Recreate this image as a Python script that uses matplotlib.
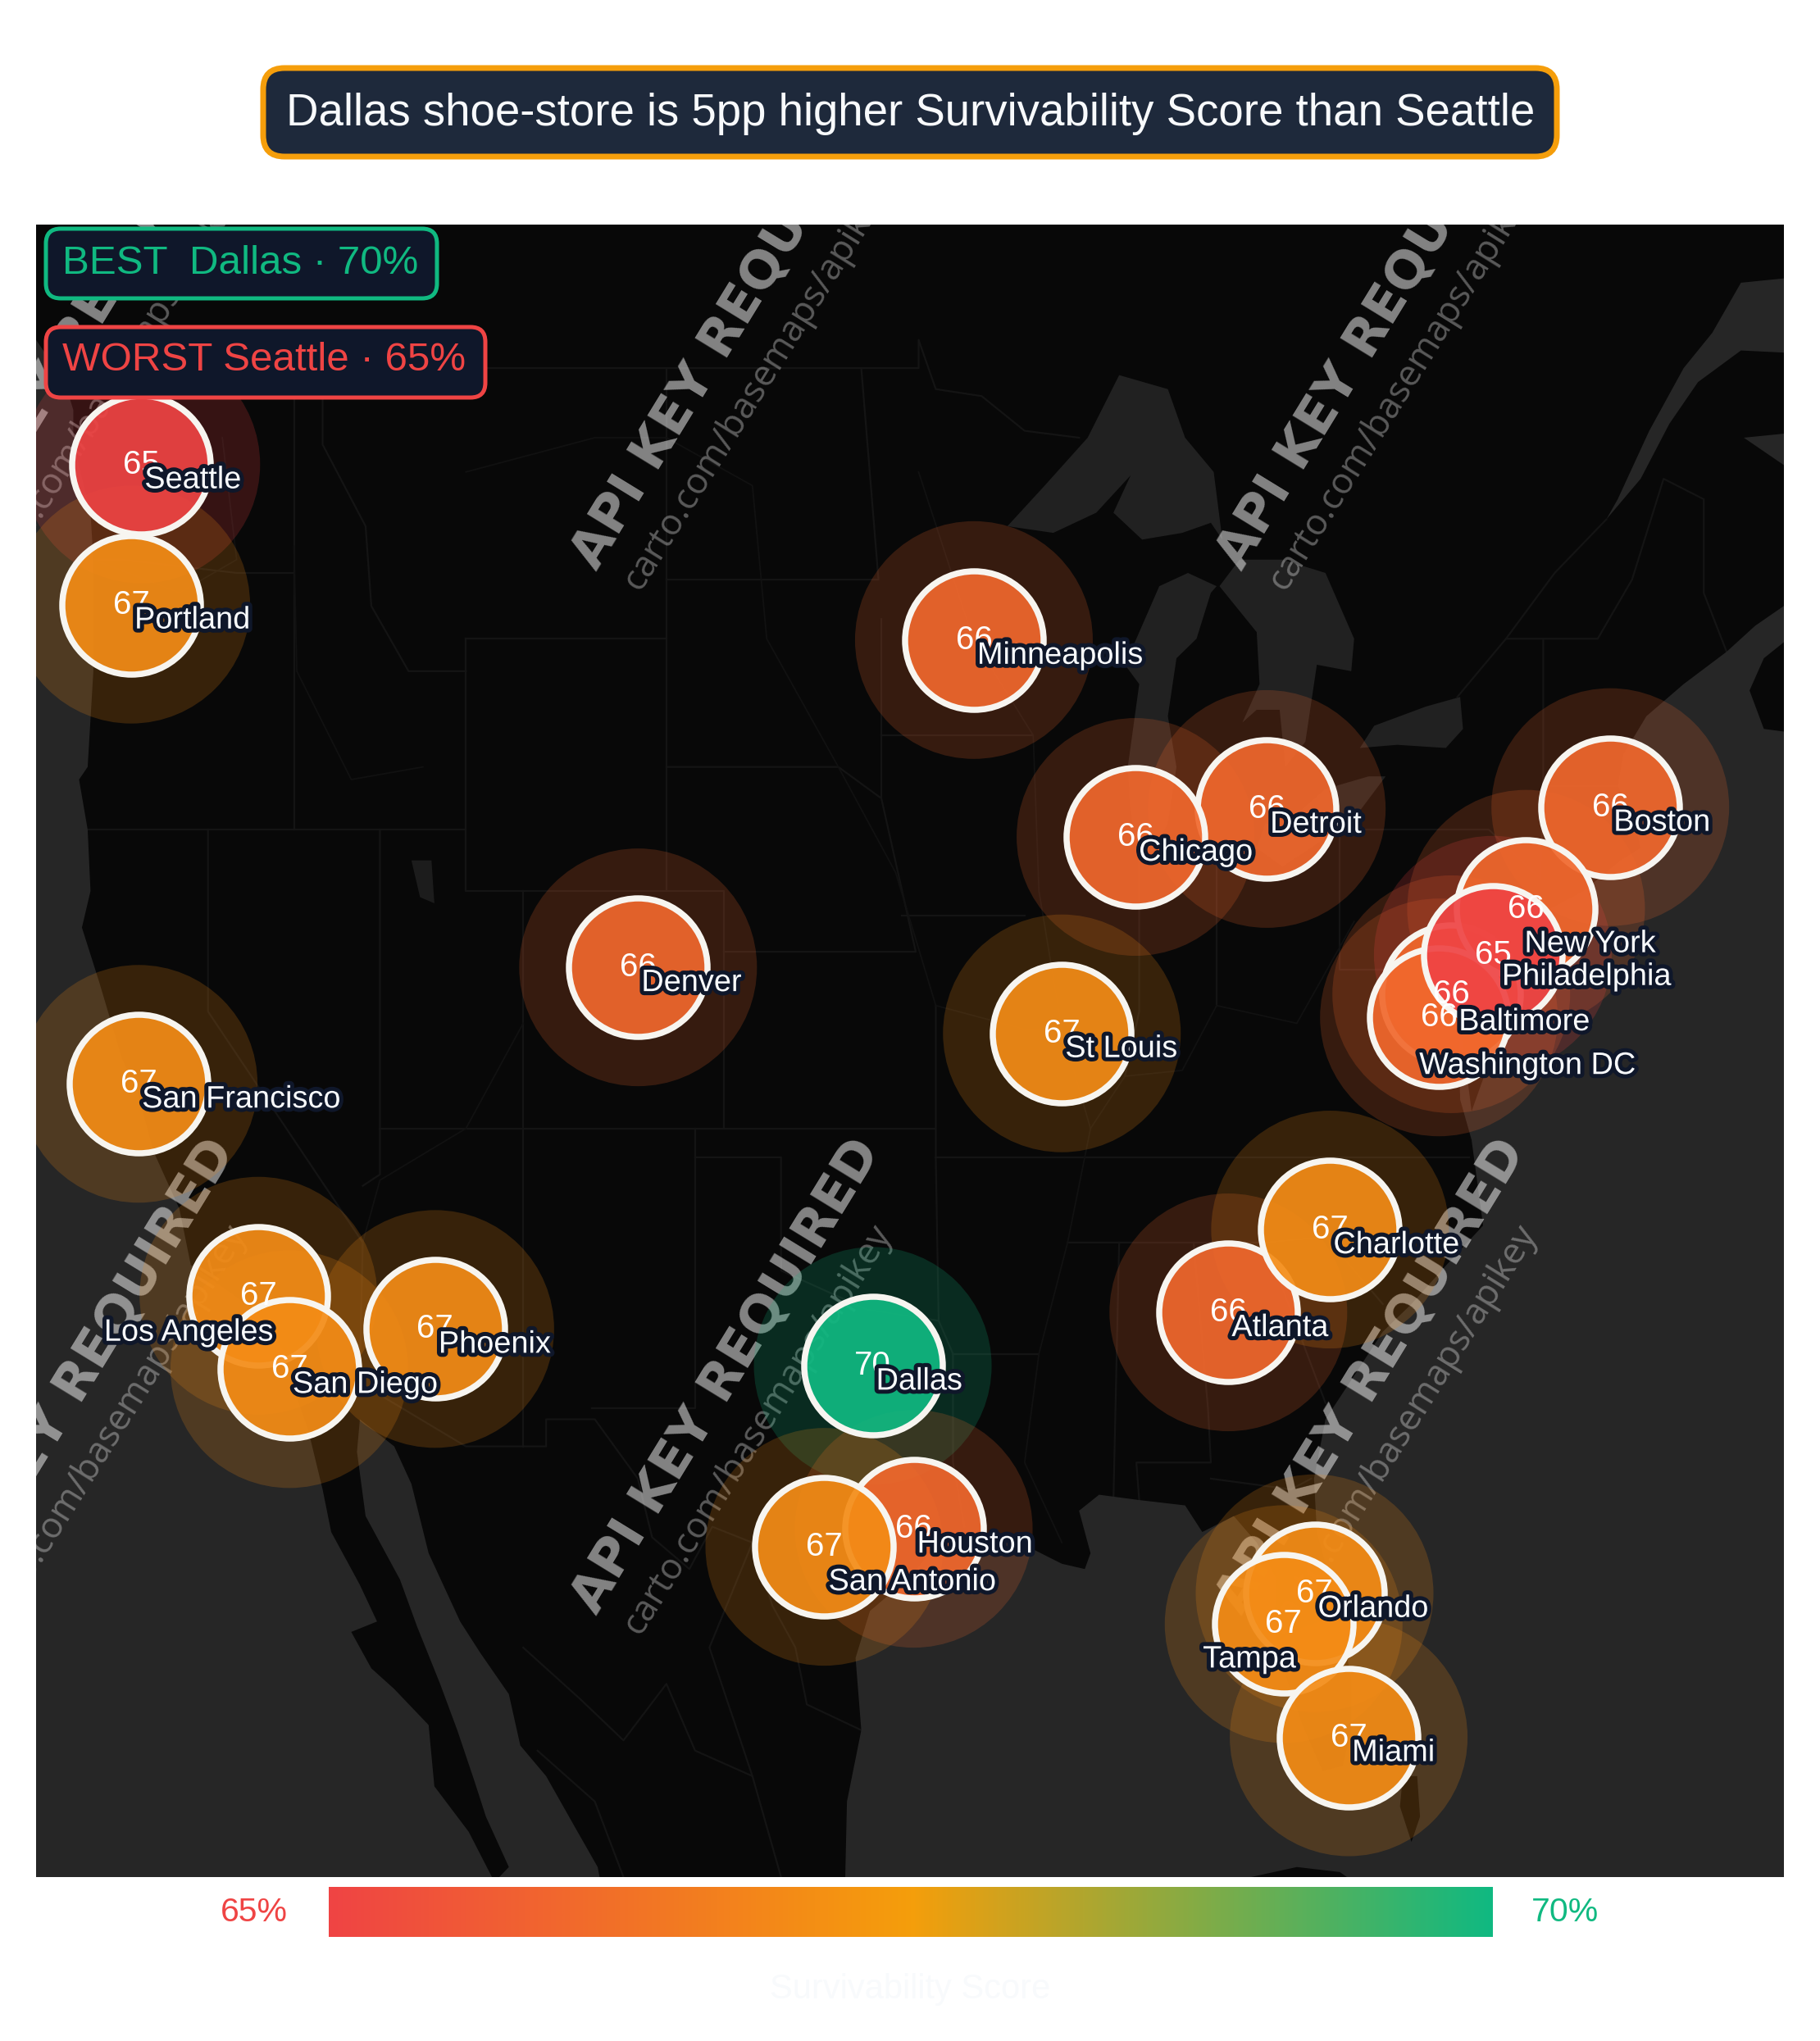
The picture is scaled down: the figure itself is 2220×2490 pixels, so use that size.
import numpy as np
import matplotlib
matplotlib.use("Agg")
import matplotlib.pyplot as plt
import matplotlib.patheffects as pe
from matplotlib.colors import LinearSegmentedColormap, Normalize
from matplotlib.patches import FancyBboxPatch, Polygon

plt.rcParams['font.family'] = ['Liberation Sans', 'DejaVu Sans']

### DATA
cities = ['Seattle', 'Portland', 'San Francisco', 'Los Angeles', 'San Diego', 'Phoenix', 'Denver',
          'Dallas', 'Houston', 'San Antonio', 'Minneapolis', 'Detroit', 'Chicago', 'St Louis',
          'Atlanta', 'Charlotte', 'Orlando', 'Tampa', 'Miami', 'Boston', 'Baltimore',
          'Washington DC', 'New York', 'Philadelphia']
lons = [-122.33, -122.68, -122.42, -118.24, -117.16, -112.07, -104.99,
        -96.80, -95.37, -98.49, -93.27, -83.05, -87.63, -90.20,
        -84.39, -80.84, -81.38, -82.46, -80.19, -71.06, -76.61,
        -77.04, -74.00, -75.16]
lats = [47.61, 45.52, 37.77, 34.05, 32.72, 33.45, 39.74,
        32.78, 29.76, 29.42, 44.98, 42.33, 41.88, 38.63,
        33.75, 35.23, 28.54, 27.95, 25.76, 42.36, 39.29,
        38.90, 40.71, 39.95]
scores = [65, 67, 67, 67, 67, 67, 66,
          70, 66, 67, 66, 66, 66, 67,
          66, 67, 67, 67, 67, 66, 66,
          66, 66, 65]

title = 'Dallas shoe-store is 5pp higher Survivability Score than Seattle'
best_label = 'BEST  Dallas · 70%'
worst_label = 'WORST Seattle · 65%'
bar_title = 'Survivability Score'

# basemap outlines, lon/lat
pacific = [(-126, 49.4), (-125, 48.8), (-124.7, 48.4), (-124.7, 47.9), (-124.1, 46.9), (-124, 46.2),
           (-124, 44.5), (-124.2, 43), (-124.5, 42.8), (-124.2, 42), (-124.1, 41), (-124.4, 40.4),
           (-123.8, 39.5), (-123, 38.2), (-122.5, 37.7), (-121.9, 36.6), (-121, 35.6), (-120.6, 34.6),
           (-119.2, 34.1), (-118.4, 33.8), (-117.3, 33), (-117.1, 32.5), (-116.5, 31.6), (-116, 30.5),
           (-115.7, 29.7), (-114.7, 28.7), (-114.1, 28), (-115, 27.8), (-114.3, 27.1), (-113.5, 26.7),
           (-112.3, 26), (-112.1, 24.8), (-110.9, 23.9), (-110, 22.9), (-109.5, 23.2), (-110.3, 24.2),
           (-110.7, 24.9), (-111.3, 25.9), (-111.9, 26.8), (-112.7, 27.9), (-113.3, 28.8), (-114.5, 30),
           (-114.8, 31.2), (-114.7, 31.8), (-113.5, 31.3), (-112.9, 30.6), (-112.3, 29.3), (-111.2, 28),
           (-110.5, 27.4), (-109.5, 26.6), (-109.1, 25.6), (-108.2, 25), (-107.2, 24), (-106.4, 23.2),
           (-106, 22), (-127, 22), (-127, 49.4)]
atlantic = [(-97.8, 22), (-97.7, 24.5), (-97.2, 25.9), (-97.4, 27.3), (-96.9, 28.2), (-95.4, 28.9),
            (-94.7, 29.4), (-93.8, 29.7), (-92.3, 29.6), (-91.3, 29.4), (-90.2, 29.1), (-89.4, 29),
            (-89.2, 29.3), (-89.6, 30.1), (-88.9, 30.4), (-87.5, 30.3), (-85.9, 30.2), (-85.3, 29.7),
            (-84.2, 30), (-83.4, 29.5), (-82.7, 28.8), (-82.8, 27.9), (-82.3, 26.8), (-81.8, 26),
            (-81.1, 25.1), (-80.4, 25.2), (-80.1, 25.9), (-80.1, 26.9), (-80.6, 28.3), (-81.3, 29.7),
            (-81.4, 30.7), (-81, 31.8), (-80, 32.6), (-79, 33.4), (-78, 33.9), (-76.6, 34.7),
            (-75.5, 35.3), (-75.9, 36.8), (-76.3, 37.5), (-76.4, 39.2), (-75.9, 37.3), (-75.1, 38.4),
            (-75.1, 38.8), (-75.5, 39.5), (-74.9, 38.9), (-74.2, 39.6), (-74, 40.5), (-72, 41),
            (-70.7, 41.5), (-70, 41.7), (-70.2, 42.1), (-70.8, 42.7), (-70.6, 43.2), (-69.8, 43.8),
            (-68.5, 44.3), (-67, 44.8), (-66, 45.2), (-64, 45.8), (-64, 22)]
nova_scotia = [(-64, 43.5), (-65.7, 43.6), (-66.2, 44.2), (-65.7, 44.7), (-64, 45.3)]
st_lawrence = [(-71.2, 46.8), (-70, 47.4), (-69, 48.2), (-68, 48.8), (-66.5, 49.25), (-64, 49.2),
               (-64, 50.3), (-66.5, 50.2), (-67.5, 49.5), (-68.5, 49), (-69.7, 48.1), (-70.8, 47.1)]
chaleur = [(-64, 48.1), (-66.4, 48), (-65, 47.6), (-64.9, 46.3), (-64, 46)]
superior = [(-92.1, 46.7), (-90.5, 46.6), (-89, 46.9), (-87.8, 47.45), (-88.4, 46.9), (-87.4, 46.5),
            (-86, 46.6), (-85, 46.75), (-84.6, 46.5), (-84.9, 47.5), (-85.9, 48), (-86.5, 48.7),
            (-88.2, 48.9), (-89.3, 48), (-90.8, 47.3)]
michigan = [(-87.6, 41.7), (-87, 41.65), (-86.5, 42.1), (-86.2, 43), (-86.5, 43.8), (-86.2, 44.7),
            (-85.5, 45), (-85, 45.7), (-84.8, 45.8), (-85.8, 46), (-86.8, 45.8), (-87.5, 45.1),
            (-88, 44.6), (-87.5, 44.3), (-87.9, 43), (-87.8, 42.3)]
huron = [(-84.7, 45.8), (-83.4, 45.1), (-83.3, 44.3), (-83.9, 43.7), (-83.4, 43.9), (-82.6, 43.9),
         (-82.4, 43), (-81.7, 43.4), (-81.3, 44.6), (-80.1, 44.5), (-80, 45), (-81, 46),
         (-82.5, 46.2), (-84, 46.2)]
erie = [(-83.4, 41.7), (-82.5, 41.4), (-81.2, 41.8), (-79.8, 42.3), (-78.9, 42.85), (-79.5, 42.85),
        (-81, 42.65), (-82.5, 42.05), (-83.1, 42.1)]
ontario = [(-79.8, 43.3), (-78.5, 43.35), (-76.8, 43.3), (-76.2, 43.6), (-76.3, 44.1), (-77.5, 43.95),
           (-79.3, 43.65)]
salt_lake = [(-112.9, 41.5), (-112.2, 41.5), (-112.1, 40.8), (-112.6, 40.9)]
cuba = [(-85, 21.9), (-84.4, 22.9), (-83.2, 23.05), (-82, 23.2), (-80.5, 23.1), (-79, 22.5), (-79, 21.5), (-85, 21.5)]
andros = [(-78.3, 25), (-77.8, 25), (-77.7, 24.2), (-78, 23.7), (-78.4, 24.4)]

borders = [
    [(-123, 49), (-95.2, 49), (-95.2, 49.4), (-94.6, 48.7), (-93, 48.6), (-91.5, 48.1), (-89.6, 48)],
    [(-124, 46.2), (-123, 46.2), (-119, 46), (-117, 46)],
    [(-117, 49), (-117, 42)],
    [(-124.2, 42), (-111, 42)],
    [(-120, 42), (-120, 39), (-114.6, 35), (-114.7, 32.7)],
    [(-114, 42), (-114, 36.2), (-114.6, 36)],
    [(-114, 37), (-94.6, 37)],
    [(-109, 41), (-109, 31.3)],
    [(-111, 45), (-111, 41), (-102, 41), (-102, 37)],
    [(-104, 49), (-104, 41)],
    [(-111, 45), (-104, 45)],
    [(-116, 49), (-116, 47.9), (-114.5, 46.7), (-114.3, 45.5), (-113, 44.5), (-111, 44.5)],
    [(-104, 45.9), (-96.6, 45.9), (-97.2, 49)],
    [(-104, 43), (-98, 43), (-96.5, 42.5), (-96.5, 45.3)],
    [(-102, 40), (-95.3, 40), (-96.5, 42.5)],
    [(-103, 37), (-103, 32), (-106.6, 32)],
    [(-103, 36.5), (-100, 36.5), (-100, 34.5), (-97, 33.8), (-94.5, 33.6), (-94, 33), (-94, 31), (-93.6, 29.8)],
    [(-94.6, 39.1), (-94.6, 36.5), (-94.5, 33.6)],
    [(-96.5, 43.5), (-91.2, 43.5)],
    [(-95.8, 40.6), (-91.5, 40.6)],
    [(-94, 33), (-91, 33)],
    [(-94.6, 36.5), (-90, 36.5), (-76, 36.5)],
    [(-90, 35), (-84.3, 35), (-83.1, 35), (-81, 35.1), (-79, 33.9)],
    [(-88.2, 35), (-88.4, 30.3)],
    [(-85.6, 35), (-85.1, 32), (-85, 31), (-87.6, 31), (-87.5, 30.3)],
    [(-85, 30.7), (-82.2, 30.5), (-81.5, 30.7)],
    [(-83.1, 35), (-81, 32.1)],
    [(-87.5, 41.7), (-87.5, 39), (-88, 37.9)],
    [(-84.8, 41.7), (-84.8, 39.1)],
    [(-87.2, 41.75), (-83.4, 41.7)],
    [(-80.5, 42), (-80.5, 39.7), (-75.8, 39.7)],
    [(-79.7, 42), (-75.3, 42), (-73.5, 41.2)],
    [(-73.4, 45), (-73.4, 42.7), (-73.5, 41.2)],
    [(-74.7, 45), (-71.5, 45), (-70.3, 45.9), (-69.2, 47.4), (-67.8, 47.1), (-67.8, 45.7), (-67, 44.8)],
    [(-73.4, 42.7), (-70.8, 42.7)],
    [(-76.4, 44.1), (-74.7, 45), (-73, 46), (-71.2, 46.8)],
    [(-117.1, 32.5), (-114.7, 32.7), (-114.8, 32.5), (-111, 31.3), (-108.2, 31.3), (-108.2, 31.8), (-106.5, 31.8),
     (-105, 30.7), (-104.5, 29.6), (-103.2, 29), (-102.4, 29.8), (-101, 29.5), (-100.3, 28.3), (-99.5, 27.5),
     (-99.1, 26.4), (-97.2, 25.9)],
    [(-109, 27.5), (-107, 26.5), (-105.5, 25.7), (-104, 26.8), (-103, 25.5), (-101, 25), (-100, 23)],
    [(-108.5, 25.5), (-106.5, 24.5), (-105.5, 23)],
    [(-101, 29.5), (-102.5, 27.5), (-101, 25)],
]
rivers = [
    [(-95.2, 47.5), (-93.3, 45), (-91.2, 43.5), (-91, 41), (-90.2, 38.7), (-89.2, 37), (-90, 35), (-91, 33), (-91.5, 31), (-90.2, 29.5)],
    [(-111, 47.5), (-106.5, 48), (-104, 48), (-101, 47.3), (-100.5, 45), (-98, 43), (-96, 41.3), (-94.6, 39.1), (-91.5, 38.7), (-90.2, 38.7)],
    [(-80, 40.5), (-82, 38.8), (-84.8, 39.1), (-86, 38), (-88, 37.9), (-89.2, 37)],
    [(-124, 46.2), (-121, 45.7), (-119, 46.2), (-119.5, 48)],
    [(-117, 46.4), (-116.9, 44.5), (-115, 42.8), (-112.5, 43)],
    [(-109, 38.8), (-111, 37), (-114, 36.1), (-114.6, 35), (-114.7, 32.7)],
]

# label placement per city, pixels from the marker centre (dx, dy down, alignment)
label_offsets = {
    'Los Angeles': (18, 45, 'right'),
    'Tampa': (15, 43, 'right'),
    'San Antonio': (5, 43, 'left'),
    'New York': (-2, 43, 'left'),
    'Philadelphia': (11, 27, 'left'),
    'Baltimore': (9, 34, 'left'),
    'Washington DC': (-24, 59, 'left'),
}

# watermark tile starts, pixels
tile_x = [-92, 695, 1482]
tile_y = [712, 1986]

W, H = 2220, 2490
DPI = 100
PT = 72 / DPI  # one pixel in points

cmap = LinearSegmentedColormap.from_list('score', ['#ef4444', '#f59e0b', '#10b981'])
norm = Normalize(65, 70)


def merc(lat):
    return np.log(np.tan(np.pi / 4 + np.radians(np.clip(lat, -85, 85)) / 2))


def inv_merc(y):
    return np.degrees(2 * np.arctan(np.exp(y)) - np.pi / 2)


def px_axes(x0, y0, x1, y1, **kw):
    return fig.add_axes([x0 / W, 1 - y1 / H, (x1 - x0) / W, (y1 - y0) / H], **kw)


fig = plt.figure(figsize=(W / DPI, H / DPI), dpi=DPI, facecolor='white')

### MAP
ax = px_axes(44, 274, 2176, 2290)
ax.set_yscale('function', functions=(merc, inv_merc))
ax.set_xlim(-126.0, -65.0)
ax.set_ylim(23.0, 51.0)
ax.set_facecolor('#080808')
ax.set_xticks([])
ax.set_yticks([])
ax.minorticks_off()
for s in ax.spines.values():
    s.set_visible(False)

for b in borders:
    ax.plot(*zip(*b), color='#141414', lw=1.6, zorder=1)
for r in rivers:
    ax.plot(*zip(*r), color='#111111', lw=1.3, zorder=1)
for shape in [pacific, atlantic, st_lawrence, chaleur]:
    ax.add_patch(Polygon(shape, closed=True, fc='#262626', ec='none', zorder=2))
for shape in [superior, michigan, huron, erie, ontario]:
    ax.add_patch(Polygon(shape, closed=True, fc='#212121', ec='none', zorder=2))
ax.add_patch(Polygon(salt_lake, closed=True, fc='#1c1c1c', ec='none', zorder=2))
for shape in [nova_scotia, cuba, andros]:
    ax.add_patch(Polygon(shape, closed=True, fc='#080808', ec='none', zorder=3))

### OVERLAY in pixel coordinates
ui = px_axes(0, 0, W, H)
ui.set_xlim(0, W)
ui.set_ylim(H, 0)
ui.axis('off')
ui.patch.set_alpha(0)

for tx in tile_x:
    for ty in tile_y:
        ax.text(tx + 17, ty - 24, 'API KEY REQUIRED', transform=ui.transData, rotation=58.5, rotation_mode='anchor',
                ha='left', va='center', fontsize=45.5, fontweight='bold', family='DejaVu Sans',
                color='white', alpha=0.5, zorder=4, clip_on=True)
        ax.text(tx + 75, ty + 4, 'carto.com/basemaps/apikey', transform=ui.transData, rotation=58, rotation_mode='anchor',
                ha='left', va='center', fontsize=31.7, family=['Open Sans', 'DejaVu Sans'],
                color='white', alpha=0.33, zorder=4, clip_on=True)

colors = [cmap(norm(v)) for v in scores]
ax.scatter(lons, lats, s=(290 * PT) ** 2, c=colors, alpha=0.2, linewidths=0, zorder=5, clip_on=True)
for lon, lat, c in zip(lons, lats, colors):
    ax.scatter([lon], [lat], s=(169 * PT) ** 2, facecolor=c[:3] + (0.92,), edgecolor=(0.97, 0.96, 0.94, 1),
               linewidths=7.5 * PT, zorder=6)

stroke = [pe.withStroke(linewidth=10 * PT, foreground='#0f172a')]
for name, lon, lat, v in zip(cities, lons, lats, scores):
    ax.annotate(str(v), (lon, lat), xytext=(0, 0), textcoords='offset points', ha='center', va='center',
                fontsize=29, color='white', zorder=7)
for name, lon, lat in zip(cities, lons, lats):
    dx, dy, ha = label_offsets.get(name, (4, 19, 'left'))
    ax.annotate(name, (lon, lat), xytext=(dx * PT, -dy * PT), textcoords='offset points', ha=ha, va='center',
                fontsize=27.3, color='#f8fafc', zorder=8, path_effects=stroke)

### TITLE AND CALLOUTS


def callout(x0, y0, x1, y1, fc, ec, lw, r):
    ui.add_patch(FancyBboxPatch((x0 + r, y0 + r), x1 - x0 - 2 * r, y1 - y0 - 2 * r,
                                boxstyle=f'round,pad={r},rounding_size={r}', fc=fc, ec=ec, lw=lw * PT))


callout(321, 83, 1899, 191, '#1e293b', '#f59e0b', 7, 26)
ui.text(1111, 139, title, ha='center', va='center', fontsize=39.3, color='#f8fafc')

callout(56, 279, 533, 364, '#0f172a', '#10b981', 5, 18)
ui.text(76, 321, best_label, ha='left', va='center', fontsize=35.5, color='#10b981')
callout(56, 399, 592, 485, '#0f172a', '#ef4444', 5, 18)
ui.text(76, 440, worst_label, ha='left', va='center', fontsize=35.5, color='#ef4444')

### COLOUR BAR
cax = px_axes(401, 2302, 1821, 2363)
cax.imshow(np.linspace(0, 1, 512).reshape(1, -1), aspect='auto', cmap=cmap)
cax.axis('off')

ui.text(310, 2333, '65%', ha='center', va='center', fontsize=29.5, color='#ef4444')
ui.text(1909, 2333, '70%', ha='center', va='center', fontsize=29.5, color='#10b981')
ui.text(1110, 2427, bar_title, ha='center', va='center', fontsize=30, color='#f8fafc')

fig.savefig('out.png', dpi=DPI)
